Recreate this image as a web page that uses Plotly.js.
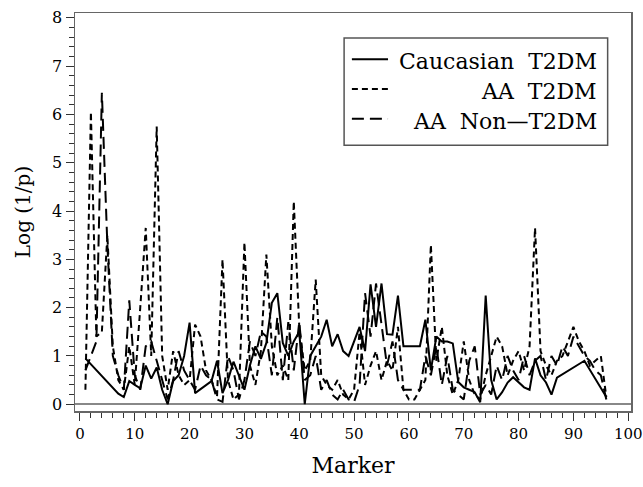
<!DOCTYPE html>
<html>
<head>
<meta charset="utf-8">
<script src="https://cdn.plot.ly/plotly-3.0.1.min.js"></script>
<style>html,body{margin:0;padding:0;background:#fff;}</style>
</head>
<body>
<div id="chart" style="width:643px;height:487px;"></div>
<script>
// Marker index 1..96
const markers = [];
for (let i = 1; i <= 96; i++) markers.push(i);

// Caucasian T2DM (solid); null = missing marker (line connects across)
const caucasianT2DM = [
  0.95, null, null, null, null, null, 0.22, 0.15, 0.48, 0.40,
  0.33, 0.80, 0.53, 0.76, 0.30, 0.00, 0.48, 0.60, 1.00, 1.69,
  0.23, null, null, 0.48, 0.90, 0.23, 0.50, 0.88, 0.60, 0.30,
  0.80, 1.20, 0.94, 1.27, 2.10, 2.30, 1.27, 1.00, 1.30, 1.50,
  0.00, 1.00, 1.20, 1.40, 1.75, 1.20, 1.45, 1.10, 1.00, 1.30,
  1.60, 1.10, 2.48, 1.60, 2.50, 1.45, 1.44, 2.25, 1.20, 1.20,
  1.20, 1.20, 1.75, 0.70, 1.40, 1.30, 1.30, 1.26, 0.46, 0.35,
  0.30, 0.25, 0.04, 2.25, 0.50, 0.10, 0.25, 0.45, 0.56, 0.45,
  0.35, 0.30, 0.95, 0.60, 0.45, 0.20, 0.55, null, null, null,
  null, 0.90, null, null, null, 0.15
];

// AA T2DM (short dash)
const aaT2DM = [
  0.30, 6.05, 1.40, 1.50, 3.50, 1.20, 0.50, 0.30, 1.20, 0.40,
  2.00, 3.65, 1.00, 5.75, 1.00, 0.30, 1.10, 0.60, 0.40, 0.50,
  1.65, 1.40, 0.70, 0.50, 0.15, 3.00, 0.50, 0.10, 0.20, 3.35,
  0.80, 0.40, 1.10, 3.10, 1.20, 0.60, 0.80, 0.50, 4.20, 1.60,
  0.70, 0.90, 2.58, 0.60, 0.40, 0.30, 0.50, 0.20, 0.10, 0.30,
  1.50, 0.40, 0.80, 1.10, 0.50, 0.90, 0.70, 1.60, 0.30, 0.10,
  0.10, 0.30, 0.50, 3.30, 0.90, 1.60, 0.60, 0.20, 0.50, 1.30,
  0.50, 0.20, 0.10, 0.60, 1.00, 1.40, 1.20, 0.60, 0.90, 1.10,
  0.70, 1.20, 3.65, 1.10, 0.80, 0.60, 0.90, 1.00, 1.30, 1.60,
  1.30, 1.10, 0.80, 0.90, 1.00, 0.15
];

// AA Non-T2DM (long dash)
const aaNonT2DM = [
  0.70, 1.00, 1.30, 6.45, 3.30, 1.00, 0.60, 0.30, 2.15, 0.60,
  0.30, 1.20, 1.30, 0.90, 0.50, 0.10, 0.50, 1.10, 0.70, 0.50,
  0.30, 0.80, 0.60, 0.50, 0.10, 0.05, 1.00, 0.70, 0.10, 0.50,
  1.30, 1.00, 1.50, 1.40, 0.60, 1.80, 0.50, 1.70, 0.70, 1.70,
  0.50, 0.60, 1.00, 0.30, 0.50, 0.20, 0.10, 0.30, 0.10, 0.05,
  0.40, 2.30, 1.40, 2.50, 1.70, 0.80, 1.30, 0.50, 0.30, 0.30,
  0.30, 0.30, 1.00, 0.60, 1.20, 0.40, 1.00, 0.30, 0.20, 0.10,
  0.90, 1.20, 0.20, 0.40, 0.20, 0.80, 0.50, 1.00, 0.70, 0.50,
  1.00, 0.60, 0.90, 1.00, 0.50, 1.00, 0.80, 1.20, 1.00, 1.40,
  1.20, 1.00, 0.90, 0.70, 0.60, 0.10
];

const xTicks = [0, 10, 20, 30, 40, 50, 60, 70, 80, 90, 100];
const yTicks = [0, 1, 2, 3, 4, 5, 6, 7, 8];
const seriesNames = ['Caucasian\u00A0\u00A0T2DM', 'AA\u00A0\u00A0T2DM', 'AA\u00A0\u00A0Non\u2014T2DM'];
const seriesDash = ['solid', '6px,4px', '12px,6px'];

const FONT = 'DejaVu Serif';

const seriesData = [caucasianT2DM, aaT2DM, aaNonT2DM];
const traces = seriesData.map((ys, i) => ({
  x: markers, y: ys, name: seriesNames[i], type: 'scatter', mode: 'lines',
  connectgaps: true, showlegend: false,
  line: {color: '#000', width: 2, dash: seriesDash[i]}
}));

// Custom legend (right-aligned labels as in the reference)
const legY = [0.884, 0.809, 0.734];
const shapes = [{
  type: 'rect', xref: 'paper', yref: 'paper',
  x0: 0.484, x1: 0.958, y0: 0.668, y1: 0.937,
  line: {color: '#555', width: 1.5}, fillcolor: 'rgba(0,0,0,0)'
}];
const annotations = [];
seriesNames.forEach((nm, i) => {
  shapes.push({type: 'line', xref: 'paper', yref: 'paper',
    x0: 0.498, x1: 0.563, y0: legY[i], y1: legY[i],
    line: {color: '#000', width: 2, dash: seriesDash[i]}});
  annotations.push({xref: 'paper', yref: 'paper', x: 0.943, y: legY[i] - 0.006,
    xanchor: 'right', yanchor: 'middle', showarrow: false, text: nm,
    font: {family: FONT, size: 22, color: '#000'}});
});

const layout = {
  width: 643, height: 487,
  margin: {l: 75, r: 12, t: 13, b: 76},
  paper_bgcolor: '#fff', plot_bgcolor: '#fff',
  font: {family: FONT, color: '#000', size: 15},
  showlegend: false,
  shapes: shapes,
  annotations: annotations,
  xaxis: {
    range: [-0.9, 100.5], tickvals: xTicks, ticktext: xTicks.map(String),
    ticks: 'outside', ticklen: 8, tickwidth: 1, tickcolor: '#333',
    minor: {dtick: 2, ticks: 'outside', ticklen: 5, tickcolor: '#333'},
    showgrid: false, zeroline: false, ticklabeloverflow: 'allow',
    showline: true, mirror: true, linecolor: '#666', linewidth: 1.5,
    tickfont: {family: FONT, size: 15},
    title: {text: 'Marker', font: {family: FONT, size: 22}, standoff: 16}
  },
  yaxis: {
    range: [-0.14, 8.1], tickvals: yTicks, ticktext: yTicks.map(String),
    ticks: 'outside', ticklen: 8, tickwidth: 1, tickcolor: '#333',
    minor: {dtick: 0.2, ticks: 'outside', ticklen: 5, tickcolor: '#333'},
    showgrid: false, zeroline: true, zerolinecolor: '#888', zerolinewidth: 2,
    showline: true, mirror: true, linecolor: '#666', linewidth: 1.5,
    tickfont: {family: FONT, size: 16},
    title: {text: 'Log (1/p)', font: {family: FONT, size: 20}, standoff: 16}
  }
};

Plotly.newPlot('chart', traces, layout, {displayModeBar: false, staticPlot: true});
</script>
</body>
</html>
